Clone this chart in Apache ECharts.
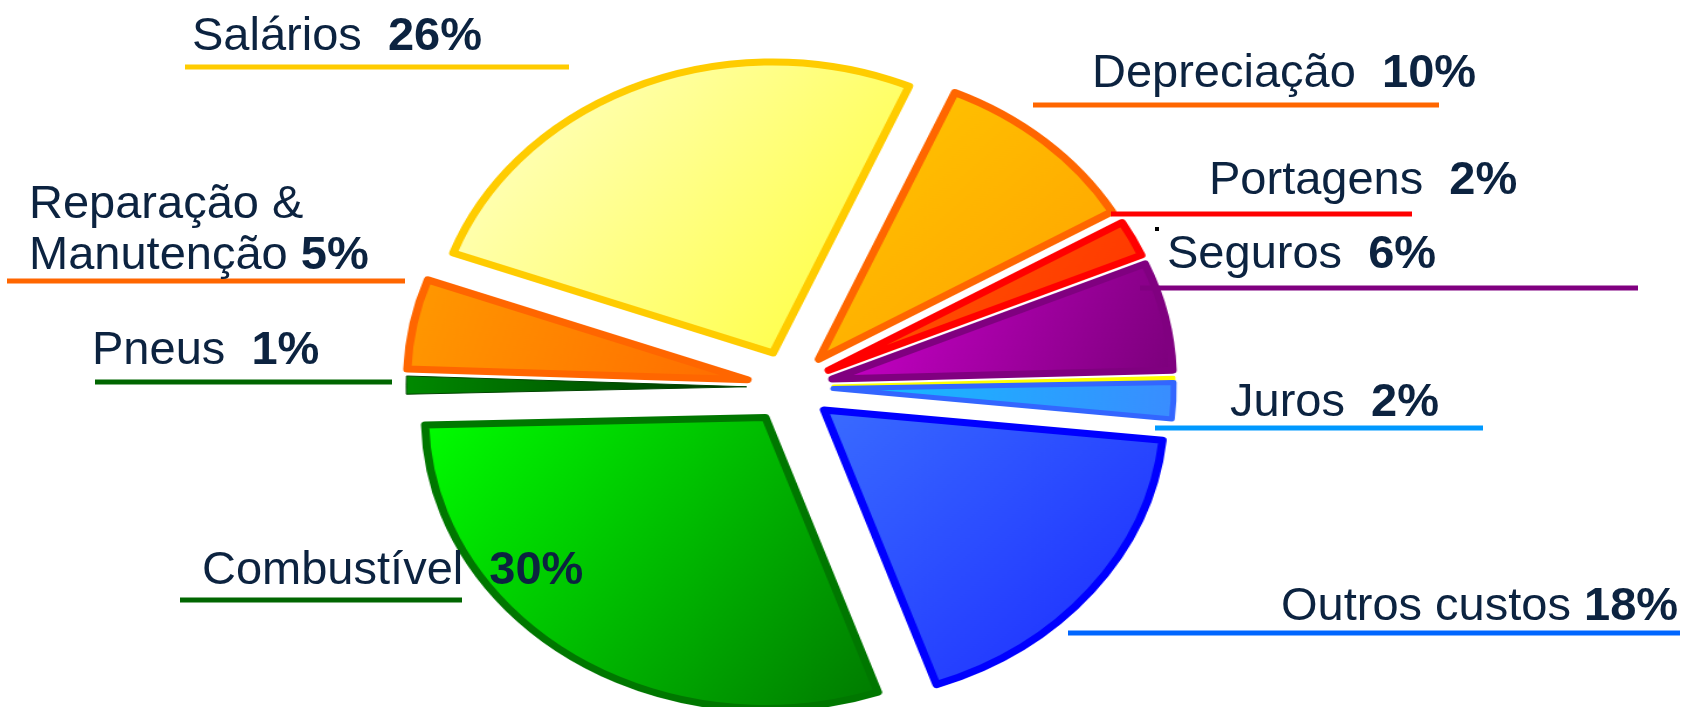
<!DOCTYPE html>
<html>
<head>
<meta charset="utf-8">
<title>Custos</title>
<script src="https://cdn.jsdelivr.net/npm/echarts@6/dist/echarts.min.js"></script>
<style>
  html, body { margin: 0; padding: 0; background: #fff; overflow: hidden; }
  .layer { position: absolute; left: 0; top: 0; width: 1691px; height: 707px; }
  /* pie is an ellipse in the original, so stretch it horizontally */
  #pie { transform: scaleX(1.17); transform-origin: 790px 387px; }
  #labels { pointer-events: none; }
</style>
</head>
<body>
<div id="pie" class="layer"></div>
<div id="labels" class="layer"></div>

<script>
// data, clockwise starting from Salários
const categories = ['Salários', 'Depreciação', 'Portagens', 'Seguros', '', 'Juros',
  'Outros custos', 'Combustível', 'Pneus', 'Reparação &\nManutenção'];
const values = [26, 10, 2, 6, 0.15, 2, 18, 30, 1, 5];

// slice styles: gradient start, gradient end, border colour, border width
const sliceStyles = [
  ['#FFFFD0', '#FFFF33', '#FFCC00', 7],
  ['#FFC800', '#FF9F00', '#FF6600', 7],
  ['#FF5A00', '#FF3300', '#FF0000', 7],
  ['#D000D0', '#7A007A', '#800080', 7],
  ['#FFFF00', '#FFFF00', '#FFFF00', 3],
  ['#10C0FF', '#3A8CFF', '#3366FF', 5],
  ['#3A6CFF', '#1A28FF', '#0000FF', 7],
  ['#00FF00', '#007800', '#007700', 7],
  ['#008A00', '#003300', '#004400', 1],
  ['#FF9A00', '#FF6A00', '#FF6600', 7]
];

// label placement: text left x, first baseline y, underline [x1, x2, y], colour, gap
const labelLayout = [
  { x: 192, y: 53, line: [185, 569, 67], color: '#FFCC00', gap: '  ' },
  { x: 1092, y: 90, line: [1033, 1439, 105], color: '#FF6600', gap: '  ' },
  { x: 1209, y: 197, line: [1111, 1412, 214], color: '#FF0000', gap: '  ' },
  { x: 1167, y: 271, line: [1140, 1638, 288], color: '#800080', gap: '  ' },
  null,
  { x: 1230, y: 419, line: [1155, 1483, 428], color: '#0099FF', gap: '  ' },
  { x: 1281, y: 623, line: [1068, 1680, 633], color: '#0066FF', gap: ' ' },
  { x: 202, y: 587, line: [180, 462, 600], color: '#006600', gap: '  ' },
  { x: 92, y: 367, line: [95, 392, 382], color: '#006600', gap: '  ' },
  { x: 29, y: 221, line: [7, 405, 281], color: '#FF6600', gap: ' ' }
];

const TEXT_COLOR = '#0c2340';
const FONT_SIZE = 47;
const LINE_HEIGHT = 51;
const FONT_FAMILY = '"Liberation Sans", Arial, sans-serif';

const pieChart = echarts.init(document.getElementById('pie'));
const labelChart = echarts.init(document.getElementById('labels'));

const pieData = categories.map((name, i) => {
  const s = sliceStyles[i];
  return {
    name: name || 'extra',
    value: values[i],
    selected: true,
    itemStyle: {
      color: {
        type: 'linear', x: 0, y: 0, x2: 1, y2: 1,
        colorStops: [{ offset: 0, color: s[0] }, { offset: 1, color: s[1] }]
      },
      borderColor: s[2],
      borderWidth: s[3]
    }
  };
});

pieChart.setOption({
  animation: false,
  series: [{
    type: 'pie',
    center: [790, 387],
    radius: 291,
    startAngle: 159.9,
    clockwise: true,
    selectedMode: 'multiple',
    selectedOffset: 37,
    avoidLabelOverlap: false,
    label: { show: false },
    labelLine: { show: false },
    itemStyle: { borderJoin: 'round' },
    emphasis: { disabled: true },
    data: pieData
  }]
});

// labels with underline
const graphics = [];
categories.forEach((name, i) => {
  const l = labelLayout[i];
  if (!l) return;
  const lines = name.split('\n');
  const last = lines.length - 1;
  const text = lines.map((t, k) => k === last
    ? '{n|' + t + '}' + l.gap + '{p|' + values[i] + '%}'
    : '{n|' + t + '}').join('\n');
  graphics.push({
    type: 'line',
    shape: { x1: l.line[0], y1: l.line[2], x2: l.line[1], y2: l.line[2] },
    style: { stroke: l.color, lineWidth: 5 },
    z: 1
  });
  graphics.push({
    type: 'text',
    x: l.x,
    y: l.y - 16 + last * LINE_HEIGHT / 2,
    z: 2,
    style: {
      text: text,
      fill: TEXT_COLOR,
      align: 'left',
      verticalAlign: 'middle',
      font: FONT_SIZE + 'px ' + FONT_FAMILY,
      rich: {
        n: { fontSize: FONT_SIZE, fontFamily: FONT_FAMILY, fill: TEXT_COLOR, lineHeight: LINE_HEIGHT },
        p: { fontSize: FONT_SIZE, fontWeight: 'bold', fontFamily: FONT_FAMILY, fill: TEXT_COLOR, lineHeight: LINE_HEIGHT }
      }
    }
  });
});
// the small stray dot next to "Seguros"
graphics.push({ type: 'rect', shape: { x: 1155, y: 227, width: 4, height: 4 }, style: { fill: '#000' } });

labelChart.setOption({
  animation: false,
  graphic: graphics
});

window.addEventListener('resize', () => {
  pieChart.resize();
  labelChart.resize();
});
</script>
</body>
</html>
